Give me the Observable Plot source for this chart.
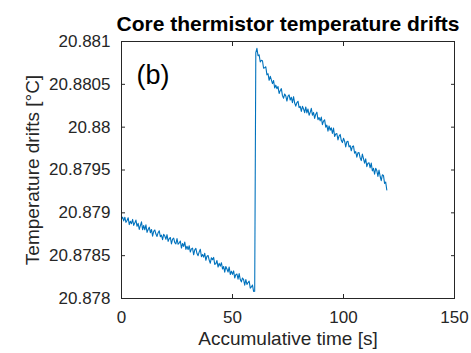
<!DOCTYPE html>
<html>
<head>
<meta charset="utf-8">
<script src="https://cdn.jsdelivr.net/npm/d3@7"></script>
<script src="https://cdn.jsdelivr.net/npm/@observablehq/plot@0.6"></script>
<style>
  html, body { margin: 0; padding: 0; background: #fff; }
  #chart svg { display: block; }
</style>
</head>
<body>
<div id="chart"></div>
<script>
// ---- Data ----
const titleText = "Core thermistor temperature drifts";
const xLabel = "Accumulative time [s]";
const yLabel = "Temperature drifts [°C]";
const panelTag = "(b)";

const xTicks = [0, 50, 100, 150];
const yTicks = [20.878, 20.8785, 20.879, 20.8795, 20.88, 20.8805, 20.881];
const yTickLabels = ["20.878", "20.8785", "20.879", "20.8795", "20.88", "20.8805", "20.881"];

const sampleStart = 0;      // s
const sampleInterval = 0.5; // s

// Temperature before the step (t = 0 … 60 s)
const tempBefore = [
  20.878930,20.878949,20.878906,20.878949,20.878889,20.878911,20.878942,20.878863,20.878902,20.878873,
  20.878923,20.878854,20.878883,20.878915,20.878843,20.878877,20.878807,20.878850,20.878895,20.878802,
  20.878852,20.878802,20.878860,20.878772,20.878806,20.878833,20.878768,20.878806,20.878728,20.878784,
  20.878800,20.878752,20.878725,20.878768,20.878791,20.878722,20.878740,20.878687,20.878750,20.878729,
  20.878691,20.878745,20.878667,20.878699,20.878712,20.878638,20.878693,20.878704,20.878653,20.878637,
  20.878700,20.878633,20.878650,20.878671,20.878589,20.878642,20.878608,20.878658,20.878574,20.878610,
  20.878571,20.878616,20.878542,20.878579,20.878588,20.878510,20.878567,20.878585,20.878525,20.878500,
  20.878544,20.878575,20.878488,20.878514,20.878483,20.878528,20.878446,20.878493,20.878502,20.878448,
  20.878412,20.878476,20.878452,20.878480,20.878398,20.878406,20.878443,20.878367,20.878410,20.878378,
  20.878418,20.878345,20.878374,20.878308,20.878374,20.878344,20.878309,20.878368,20.878280,20.878319,
  20.878282,20.878322,20.878239,20.878278,20.878286,20.878225,20.878291,20.878221,20.878194,20.878240,
  20.878221,20.878155,20.878222,20.878164,20.878186,20.878203,20.878121,20.878135,20.878157,20.878083,
  20.878084
];

// Temperature after the step (t = 60.5 … 119.5 s)
const tempAfter = [
  20.880870,20.880920,20.880834,20.880844,20.880761,20.880780,20.880775,20.880688,20.880693,20.880705,
  20.880611,20.880624,20.880547,20.880594,20.880551,20.880509,20.880545,20.880457,20.880490,20.880449,
  20.880474,20.880393,20.880426,20.880450,20.880368,20.880338,20.880387,20.880365,20.880305,20.880362,
  20.880377,20.880317,20.880349,20.880286,20.880356,20.880282,20.880245,20.880286,20.880303,20.880228,
  20.880243,20.880183,20.880244,20.880213,20.880170,20.880236,20.880167,20.880212,20.880139,20.880173,
  20.880220,20.880140,20.880172,20.880102,20.880152,20.880175,20.880088,20.880112,20.880074,20.880117,
  20.880029,20.880070,20.880086,20.880000,20.880024,20.879953,20.880014,20.879964,20.879993,20.879926,
  20.879990,20.879892,20.879921,20.879926,20.879852,20.879897,20.879915,20.879847,20.879820,20.879870,
  20.879836,20.879769,20.879830,20.879836,20.879769,20.879785,20.879724,20.879775,20.879781,20.879696,
  20.879715,20.879649,20.879700,20.879703,20.879642,20.879610,20.879685,20.879632,20.879579,20.879630,
  20.879539,20.879580,20.879585,20.879526,20.879581,20.879490,20.879519,20.879451,20.879520,20.879493,
  20.879425,20.879499,20.879427,20.879375,20.879444,20.879437,20.879343,20.879360,20.879266
];

// ---- Build table ----
const temps = tempBefore.concat(tempAfter);
const series = temps.map((v, i) => ({ time: sampleStart + i * sampleInterval, temp: v }));

const axisColor = "#262626";
const lineColor = "#0072BD";
const font = "'Liberation Sans', Arial, Helvetica, sans-serif";
const tickLen = 4;

const chart = Plot.plot({
  width: 471,
  height: 353,
  marginLeft: 121,
  marginRight: 17,
  marginTop: 41,
  marginBottom: 55,
  style: { fontFamily: font, fontSize: "17px", color: axisColor, background: "#fff", overflow: "visible" },
  x: { domain: [0, 150] },
  y: { domain: [20.878, 20.881] },
  marks: [
    Plot.line(series, { x: "time", y: "temp", stroke: lineColor, strokeWidth: 1.1 }),
    Plot.frame({ stroke: axisColor, strokeWidth: 1 }),
    // inward ticks on all four sides
    Plot.axisX(xTicks, { anchor: "bottom", tickSize: tickLen, dy: -tickLen, fill: "none", label: null, stroke: axisColor }),
    Plot.axisX(xTicks, { anchor: "top", tickSize: tickLen, dy: tickLen, fill: "none", label: null, stroke: axisColor }),
    Plot.axisY(yTicks, { anchor: "left", tickSize: tickLen, dx: tickLen, fill: "none", label: null, stroke: axisColor }),
    Plot.axisY(yTicks, { anchor: "right", tickSize: tickLen, dx: -tickLen, fill: "none", label: null, stroke: axisColor }),
    // tick labels
    Plot.axisX(xTicks, { anchor: "bottom", tickSize: 0, tickPadding: 12, label: null, fill: axisColor, fontSize: 17 }),
    Plot.axisY(yTicks, { anchor: "left", tickSize: 0, tickPadding: 11, label: null, fill: axisColor, fontSize: 17,
      tickFormat: d => yTickLabels[yTicks.indexOf(d)] }),
    // axis titles
    Plot.text([xLabel], { text: d => d, frameAnchor: "bottom", lineAnchor: "bottom", dy: 46.5,
      fontSize: 19, fill: axisColor }),
    Plot.text([yLabel], { text: d => d, frameAnchor: "left", textAnchor: "middle", lineAnchor: "bottom",
      rotate: -90, dx: -83, fontSize: 19, fill: axisColor }),
    // title
    Plot.text([titleText], { text: d => d, frameAnchor: "top", lineAnchor: "bottom", dy: -11,
      fontSize: 21, fontWeight: "bold", fill: "#000" }),
    // panel tag
    Plot.text([panelTag], { text: d => d, frameAnchor: "top-left", textAnchor: "start", lineAnchor: "bottom",
      dx: 15, dy: 42, fontSize: 27, fill: "#000" })
  ]
});

document.getElementById("chart").appendChild(chart);
</script>
</body>
</html>
